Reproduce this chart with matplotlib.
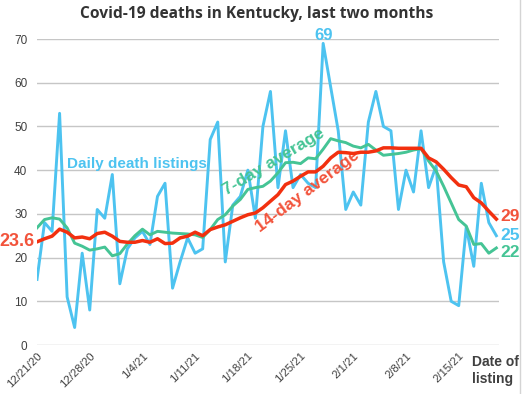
import matplotlib
matplotlib.use("Agg")
from matplotlib import pyplot as plt
from matplotlib.lines import Line2D

# Kentucky Covid-19 deaths, 12/21/20 .. 2/20/21 (one value per day)
daily_deaths = [15, 28, 26, 53, 11, 4, 21, 8, 31, 29,
                39, 14, 22, 24.5, 26, 23, 34, 37, 13, 19,
                24.5, 21, 22, 47, 51, 19, 32, 34, 40, 29,
                50, 58, 36, 49, 36, 39, 37, 36, 69, 59,
                49, 31, 35, 32, 51, 58, 50, 49, 31, 40,
                35, 49, 36, 41, 19, 10, 9, 27, 18, 37,
                28, 25]

avg_7day = [26.8, 28.7, 29.1, 28.8, 26.8, 23.3, 22.6, 21.7, 22, 22.4,
            20.4, 20.9, 23.1, 25, 26.5, 25.2, 26, 25.8, 25.6, 25.5,
            25.4, 25.2, 24.6, 26.4, 28.7, 29.8, 31.8, 33.3, 35.6, 36,
            36.3, 37.5, 39.4, 41.7, 41.8, 41.5, 42.8, 42.6, 44.8, 47.2,
            46.7, 46.3, 45.5, 45.1, 45.9, 44.6, 43.4, 43.6, 43.8, 44.1,
            44.6, 44.9, 42.1, 39.8, 36.3, 32.5, 28.7, 27.2, 23, 23.2,
            21, 22.2]

avg_14day = [23.6, 24.3, 24.9, 26.5, 25.8, 24.5, 24.7, 24.3, 25.5, 25.8,
             24.9, 23.7, 23.5, 23.5, 23.9, 23.5, 24.3, 23.2, 23.3, 24.5,
             24.9, 25.8, 25, 26.4, 27, 27.5, 28.3, 29.1, 29.8, 30.2,
             31.4, 32.9, 34.4, 36.7, 37.5, 38.6, 39.6, 39.6, 40.9, 42.8,
             44.1, 44, 43.8, 44.1, 44.1, 44.4, 45.1, 45.1, 45, 45,
             45, 45, 42.8, 41.9, 40.2, 38.3, 36.6, 36.2, 33.7, 32.5,
             30.6, 28.8]

tick_days = [0, 7, 14, 21, 28, 35, 42, 49, 56]
tick_labels = ["12/21/20", "12/28/20", "1/4/21", "1/11/21", "1/18/21",
               "1/25/21", "2/1/21", "2/8/21", "2/15/21"]

BLUE = "#4dc3f0"
GREEN = "#45c495"
RED = "#f2300f"
RED_TXT = "#f2533b"
DARK = "#404040"
BOLD = "Liberation Sans"

days = list(range(len(daily_deaths)))

fig = plt.figure(figsize=(5.24, 3.94), dpi=100)
ax = fig.add_axes([37 / 524, 1 - 345 / 394, 462 / 524, 306 / 394])

ax.plot(days, daily_deaths, color=BLUE, lw=2.1, zorder=3)
ax.plot(days, avg_7day, color=GREEN, lw=2.1, zorder=4)
ax.plot(days, avg_14day, color=RED, lw=2.5, zorder=5)

ax.set_xlim(0, 61.35)
ax.set_ylim(0, 70)
ax.set_yticks(range(0, 71, 10))
ax.set_xticks(tick_days)
ax.set_xticklabels(tick_labels, rotation=45, ha="right", va="top",
                   rotation_mode="anchor")
ax.tick_params(axis="both", length=0, labelsize=8.5, labelcolor=DARK)
ax.tick_params(axis="y", pad=7)
ax.tick_params(axis="x", pad=4, labelsize=8.2)
for lab in ax.get_xticklabels() + ax.get_yticklabels():
    lab.set_family("Liberation Sans")
ax.grid(axis="y", color="#c6c6c6", lw=1)
ax.set_axisbelow(True)
for sp in ax.spines.values():
    sp.set_visible(False)

# title
fig.text(257 / 524, 1 - 14 / 394, "Covid-19 deaths in Kentucky, last two months",
         ha="center", va="center", fontsize=11.2, fontweight="bold",
         family="Open Sans", color="#333333")

# inline labels
ax.text(13.3, 41.4, "Daily death listings", color=BLUE, fontsize=11,
        fontweight="bold", family=BOLD, ha="center", va="center")
ax.text(31.4, 41.9, "7-day average", color=GREEN, fontsize=12.5,
        fontweight="bold", family=BOLD, ha="center", va="center", rotation=31)
ax.text(36.0, 35.2, "14-day average", color=RED_TXT, fontsize=12.5,
        fontweight="bold", family=BOLD, ha="center", va="center", rotation=37)

peak = daily_deaths.index(max(daily_deaths))
ax.annotate(f"{max(daily_deaths):g}", (peak, daily_deaths[peak]),
            xytext=(0, 0), textcoords="offset points", ha="center",
            va="bottom", color=BLUE, fontsize=12, fontweight="bold",
            family=BOLD, annotation_clip=False)

ax.annotate(f"{avg_14day[0]:g}", (0, avg_14day[0]), xytext=(-2, 0),
            textcoords="offset points", ha="right", va="center",
            color=RED_TXT, fontsize=13, fontweight="bold", family=BOLD,
            annotation_clip=False)

last = days[-1]
end_labels = [(avg_14day[-1], RED_TXT, 0.5), (daily_deaths[-1], BLUE, 0),
              (avg_7day[-1], GREEN, -1.0)]
for val, col, dy in end_labels:
    ax.annotate(f"{round(val):d}", (last, val), xytext=(3, dy * 4.37 / 1.389),
                textcoords="offset points", ha="left", va="center",
                color=col, fontsize=12.5, fontweight="bold", family=BOLD,
                annotation_clip=False)

fig.text(472 / 524, 1 - 355 / 394, "Date of\nlisting", ha="left", va="top",
         fontsize=10, fontweight="bold", family=BOLD, color=DARK,
         linespacing=1.25)

fig.add_artist(Line2D([520 / 524, 520 / 524], [0, 1], color="#d4d4d4", lw=1))

fig.savefig("out.png", dpi=100)
